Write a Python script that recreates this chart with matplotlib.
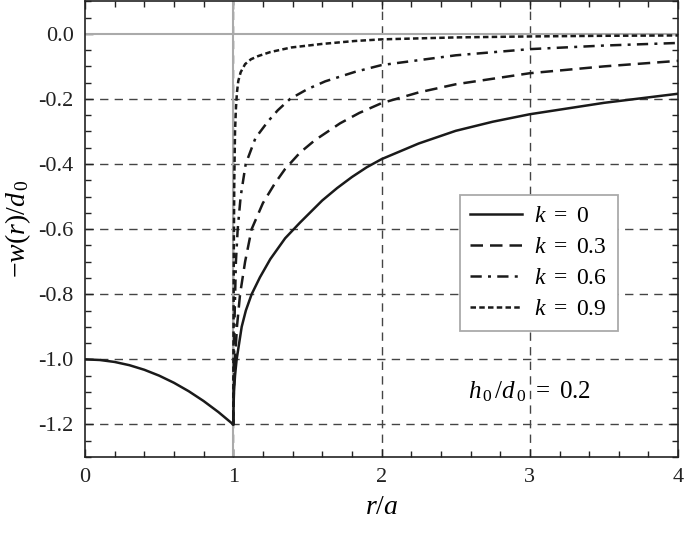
import matplotlib
matplotlib.use("Agg")
import matplotlib.pyplot as plt
from matplotlib.ticker import MultipleLocator

plt.rcParams['font.family'] = ['Liberation Serif', 'DejaVu Serif']
plt.rcParams['mathtext.fontset'] = 'custom'
plt.rcParams['mathtext.rm'] = 'Liberation Serif'
plt.rcParams['mathtext.it'] = 'Liberation Serif:italic'

# inner region r/a in [0,1] (shared by all k)
r_in = [0.0, 0.1, 0.2, 0.3, 0.4, 0.5, 0.6, 0.7, 0.8, 0.9, 1.0]
w_in = [-1.0, -1.002, -1.008, -1.018, -1.032, -1.05, -1.072, -1.098, -1.128, -1.162, -1.2]

# outer region
r_k0 = [1.0, 1.002, 1.005, 1.012, 1.023, 1.04, 1.057, 1.085, 1.124, 1.18, 1.25, 1.35, 1.45, 1.6, 1.7, 1.8, 1.9, 2.0, 2.25, 2.5, 2.75, 3.0, 3.5, 4.0]
w_k0 = [-1.2, -1.15, -1.1, -1.05, -1.0, -0.95, -0.9, -0.85, -0.8, -0.748, -0.692, -0.628, -0.58, -0.512, -0.474, -0.44, -0.41, -0.385, -0.337, -0.298, -0.27, -0.247, -0.212, -0.184]

r_k3 = [1.0, 1.004, 1.012, 1.025, 1.046, 1.08, 1.124, 1.2, 1.28, 1.35, 1.45, 1.55, 1.72, 1.85, 2.0, 2.25, 2.5, 3.0, 3.5, 4.0]
w_k3 = [-1.2, -1.1, -1.0, -0.9, -0.8, -0.7, -0.6, -0.52, -0.46, -0.415, -0.365, -0.327, -0.275, -0.243, -0.213, -0.18, -0.155, -0.121, -0.1, -0.083]

r_k6 = [1.0, 1.005, 1.01, 1.018, 1.03, 1.05, 1.084, 1.15, 1.236, 1.3, 1.383, 1.5, 1.62, 1.82, 2.0, 2.5, 3.0, 3.5, 4.0]
w_k6 = [-1.2, -1.0, -0.85, -0.7, -0.6, -0.5, -0.4, -0.32, -0.268, -0.235, -0.2, -0.17, -0.146, -0.117, -0.096, -0.066, -0.047, -0.036, -0.028]

r_k9 = [1.0, 1.002, 1.004, 1.007, 1.012, 1.018, 1.025, 1.034, 1.05, 1.08, 1.12, 1.17, 1.25, 1.39, 1.6, 1.82, 2.0, 2.5, 3.0, 3.5, 4.0]
w_k9 = [-1.2, -0.9, -0.65, -0.45, -0.3, -0.23, -0.18, -0.145, -0.118, -0.093, -0.078, -0.068, -0.056, -0.042, -0.031, -0.022, -0.017, -0.011, -0.008, -0.006, -0.005]

labels = [r'$k\ =\ 0$', r'$k\ =\ 0.3$', r'$k\ =\ 0.6$', r'$k\ =\ 0.9$']

fig = plt.figure(figsize=(6.85, 5.33), dpi=100)
ax = fig.add_axes([0.124, 0.1426, 0.866, 0.855])

ax.set_xlim(0, 4)
ax.set_ylim(-1.3, 0.1)

grid_kw = dict(color='#444444', lw=1.0, linestyle=(0, (6, 4.5)), zorder=1)
for xv in [1, 2, 3]:
    ax.axvline(xv, **grid_kw)
for yv in [-1.2, -1.0, -0.8, -0.6, -0.4, -0.2]:
    ax.axhline(yv, **grid_kw)

ax.axhline(0.0, color='#aaaaaa', lw=1.5, zorder=2)
ax.axvline(1.0, color='#aaaaaa', lw=1.5, zorder=2)

col = '#1a1a1a'
lw = 1.8
ax.plot(r_in, w_in, color=col, lw=lw, zorder=3)
ax.plot(r_k0, w_k0, color=col, lw=lw, ls='-', label=labels[0], zorder=3)
ax.plot(r_k3, w_k3, color=col, lw=lw, ls=(0, (5, 2.8)), label=labels[1], zorder=3)
ax.plot(r_k6, w_k6, color=col, lw=lw, ls=(0, (4.5, 2.5, 1.2, 2.5)), label=labels[2], zorder=3)
ax.plot(r_k9, w_k9, color=col, lw=lw, ls=(0, (2.2, 1.3)), label=labels[3], zorder=3)

ax.xaxis.set_minor_locator(MultipleLocator(0.2))
ax.yaxis.set_minor_locator(MultipleLocator(0.05))
ax.set_yticks([-1.2, -1.0, -0.8, -0.6, -0.4, -0.2, 0.0])
ax.set_yticklabels(['-1.2', '-1.0', '-0.8', '-0.6', '-0.4', '-0.2', '0.0'])
ax.set_xticks([0, 1, 2, 3, 4])
ax.set_xticklabels(['0', '1', '2', '3', '4'])
ax.tick_params(which='both', direction='in', top=True, right=True, colors='#222222', labelsize=16)
ax.tick_params(which='major', length=6, width=1.0, pad=8)
ax.tick_params(which='minor', length=4, width=1.0)
for sp in ax.spines.values():
    sp.set_linewidth(1.2)
    sp.set_color('#222222')

ax.set_xlabel(r'$r/a$', fontsize=20, labelpad=6)
ax.set_ylabel(r'$-w(r)/d_{\,0}$', fontsize=20, labelpad=4)

ax.text(3.0, -1.098, r'$h_{\,0}\,/d_{\,0}\ =\ 0.2$', fontsize=18, ha='center', va='center', zorder=4)

leg = ax.legend(loc='upper left', bbox_to_anchor=(0.632, 0.575), fontsize=17, frameon=True,
                fancybox=False, edgecolor='#aaaaaa', framealpha=1.0, handlelength=2.2,
                handletextpad=0.5, borderpad=0.45, labelspacing=0.4, borderaxespad=0)
leg.get_frame().set_linewidth(1.3)

fig.savefig('out.png', dpi=100)
